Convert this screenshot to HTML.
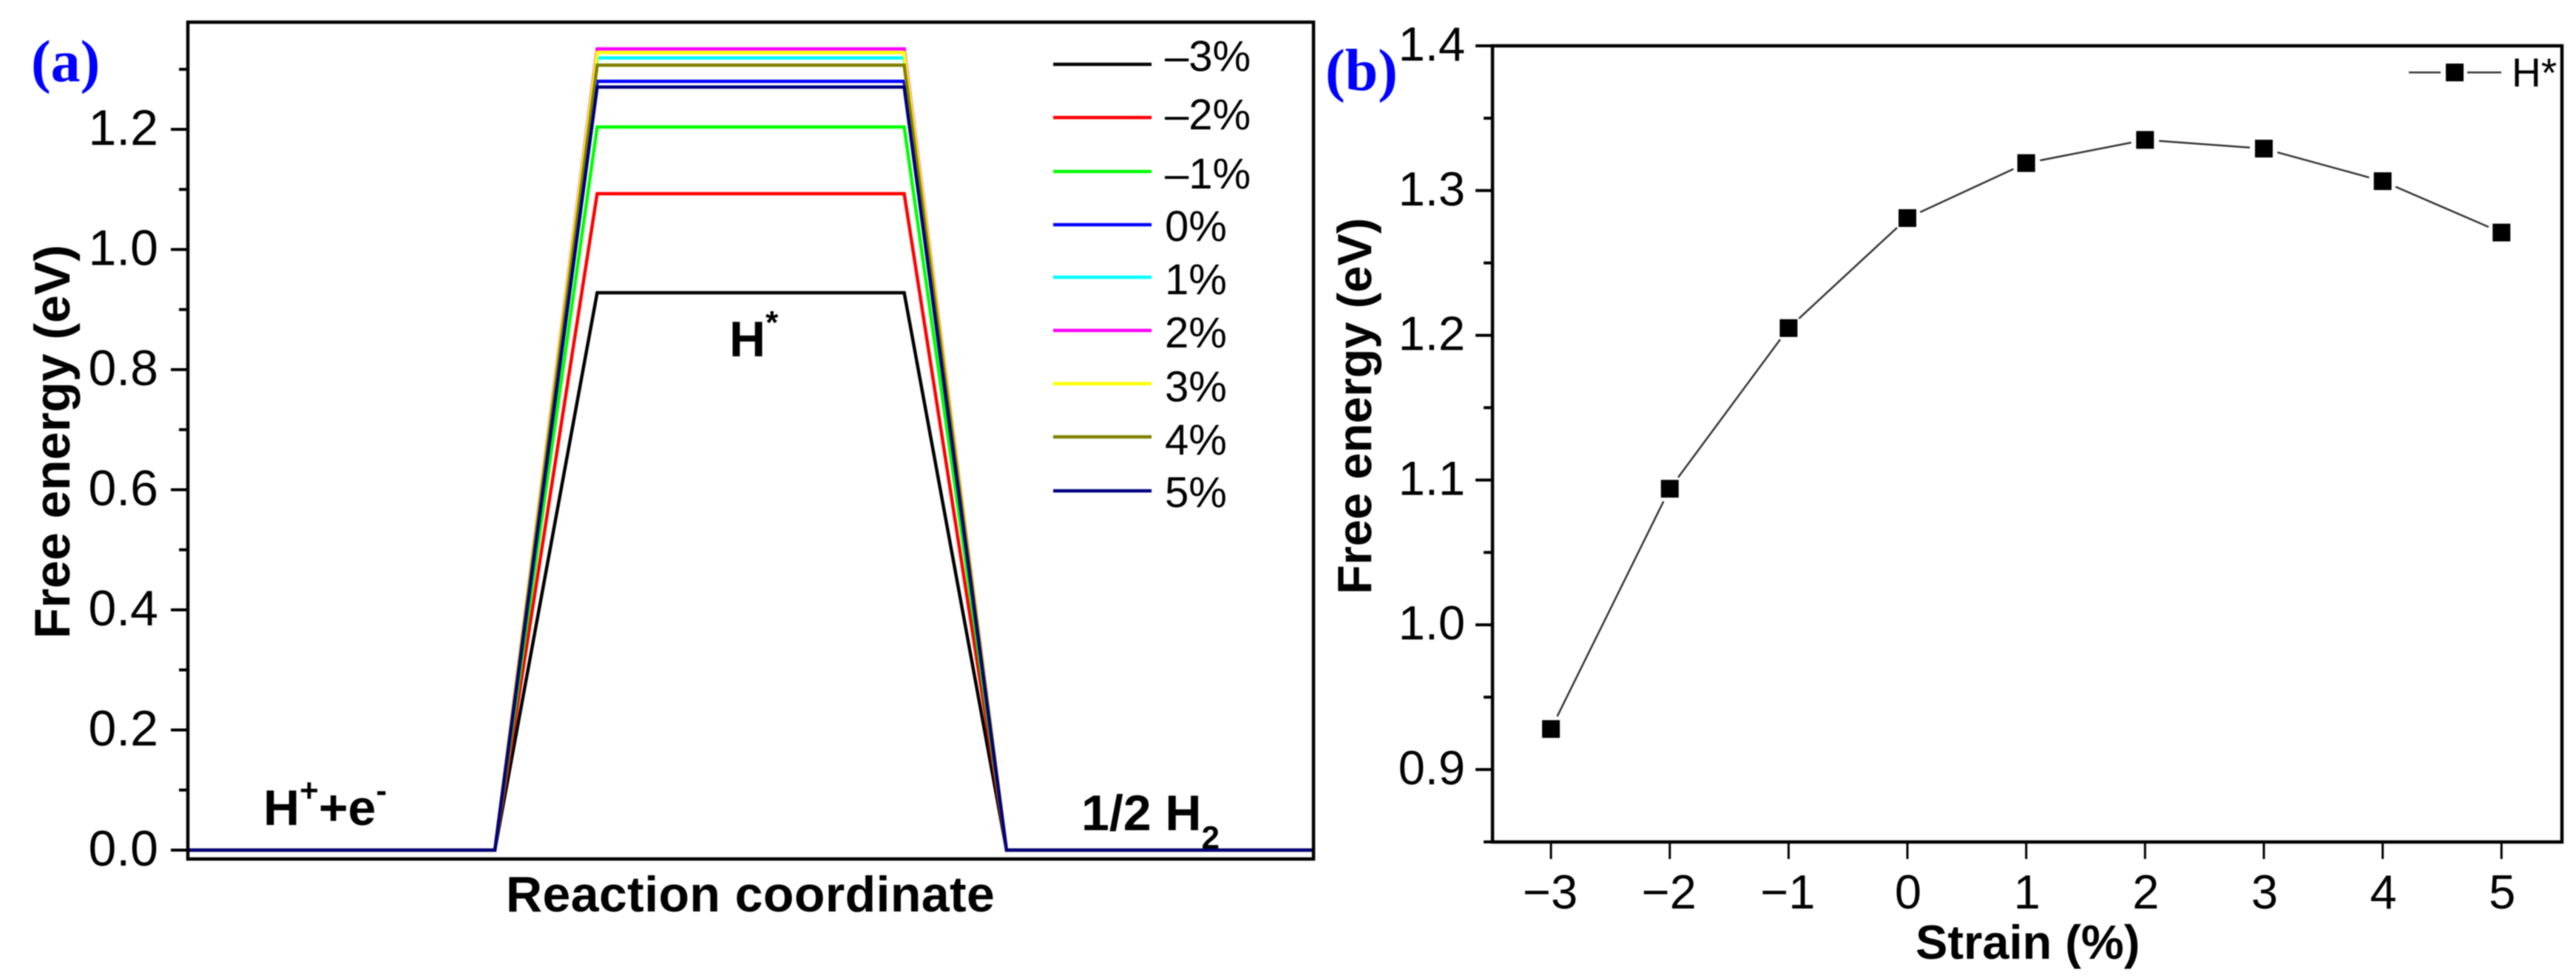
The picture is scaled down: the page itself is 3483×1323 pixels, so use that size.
<!DOCTYPE html>
<html lang="en">
<head>
<meta charset="utf-8">
<title>Free energy vs reaction coordinate and strain</title>
<style>
html,body{margin:0;padding:0;background:#fff;width:3483px;height:1323px;overflow:hidden}
svg{display:block;filter:blur(0.8px)}
text{font-family:"Liberation Sans",Arial,sans-serif;fill:#000}
.b{font-weight:bold}
.serif{font-family:"Liberation Serif","Times New Roman",serif;font-weight:bold;fill:#0000ff;font-size:80px}
</style>
</head>
<body>
<svg id="figure" xmlns="http://www.w3.org/2000/svg" width="3483" height="1323" viewBox="0 0 3483 1323">
  <rect x="0" y="0" width="3483" height="1323" fill="#fff"/>

  <!-- Panel (a) static furniture -->
  <text class="serif" x="42" y="110">(a)</text>
  <text class="b" font-size="68" transform="translate(94,864) rotate(-90)">Free energy (eV)</text>
  <text class="b" font-size="68" letter-spacing="0.4" x="684" y="1233">Reaction coordinate</text>

  <g id="panelATicks"></g>
  <g id="panelASeries" fill="none"></g>
  <rect x="254" y="30" width="1522" height="1132" fill="none" stroke="#000" stroke-width="4.5"/>

  <text class="b" font-size="68" x="356" y="1116">H<tspan font-size="44" dy="-32">+</tspan><tspan dy="32">+e</tspan><tspan font-size="44" dy="-32">-</tspan></text>
  <text class="b" font-size="68" x="1462" y="1123">1/2 H<tspan font-size="44" dy="25">2</tspan></text>
  <text class="b" font-size="68" x="986" y="482">H<tspan font-size="44" dy="-31">*</tspan></text>

  <g font-size="58">
    <line x1="1424" x2="1557" y1="87" y2="87" stroke="#000000" stroke-width="4.5"/>
    <text x="1575" y="96">–3%</text>
    <line x1="1424" x2="1557" y1="159" y2="159" stroke="#ff0000" stroke-width="4.5"/>
    <text x="1575" y="175">–2%</text>
    <line x1="1424" x2="1557" y1="232" y2="232" stroke="#00ff00" stroke-width="4.5"/>
    <text x="1575" y="255">–1%</text>
    <line x1="1424" x2="1557" y1="304" y2="304" stroke="#0000ff" stroke-width="4.5"/>
    <text x="1575" y="326">0%</text>
    <line x1="1424" x2="1557" y1="375" y2="375" stroke="#00ffff" stroke-width="4.5"/>
    <text x="1575" y="398">1%</text>
    <line x1="1424" x2="1557" y1="447" y2="447" stroke="#ff00ff" stroke-width="4.5"/>
    <text x="1575" y="470">2%</text>
    <line x1="1424" x2="1557" y1="519" y2="519" stroke="#ffff00" stroke-width="4.5"/>
    <text x="1575" y="543">3%</text>
    <line x1="1424" x2="1557" y1="591" y2="591" stroke="#808000" stroke-width="4.5"/>
    <text x="1575" y="615">4%</text>
    <line x1="1424" x2="1557" y1="664" y2="664" stroke="#000080" stroke-width="4.5"/>
    <text x="1575" y="686">5%</text>
  </g>

  <!-- Panel (b) static furniture -->
  <text class="serif" x="1792" y="122">(b)</text>
  <text class="b" font-size="65" transform="translate(1854,804) rotate(-90)">Free energy (eV)</text>
  <text class="b" font-size="65" x="2590" y="1297">Strain (%)</text>

  <g id="panelBTicks"></g>
  <rect x="2018" y="62" width="1446" height="1077" fill="none" stroke="#000" stroke-width="4.5"/>
  <g id="panelBSeries"></g>

  <g>
    <line x1="3257" x2="3300" y1="98" y2="98" stroke="#333" stroke-width="2.5"/>
    <line x1="3336" x2="3382" y1="98" y2="98" stroke="#333" stroke-width="2.5"/>
    <rect x="3307" y="86" width="24" height="24" fill="#000"/>
    <text font-size="55" x="3396" y="117">H*</text>
  </g>
</svg>

<script>
/* Panel (a) data */
const strainLabels = ['-3%', '-2%', '-1%', '0%', '1%', '2%', '3%', '4%', '5%'];
const reactionSteps = [0, 3, 4, 7, 8, 11];
const intermediateEnergy = [0.928, 1.093, 1.204, 1.280, 1.319, 1.334, 1.328, 1.307, 1.2705];
const seriesColors = ['#000000', '#ff0000', '#00ff00', '#0000ff', '#00ffff', '#ff00ff', '#ffff00', '#808000', '#000080'];
const panelAMajorTicks = [0, 0.2, 0.4, 0.6, 0.8, 1.0, 1.2];
const panelAMinorTicks = [0.1, 0.3, 0.5, 0.7, 0.9, 1.1, 1.3];

/* Panel (b) data */
const strainValues = [-3, -2, -1, 0, 1, 2, 3, 4, 5];
const hStarEnergy = [0.928, 1.094, 1.205, 1.281, 1.319, 1.335, 1.329, 1.3065, 1.271];
const panelBMajorTicks = [0.9, 1.0, 1.1, 1.2, 1.3, 1.4];
const panelBMinorTicks = [0.85, 0.95, 1.05, 1.15, 1.25, 1.35];
const panelBXTicks = [-3, -2, -1, 0, 1, 2, 3, 4, 5];

const SVGNS = 'http://www.w3.org/2000/svg';
function make(tag, attrs, parent) {
  const el = document.createElementNS(SVGNS, tag);
  for (const k in attrs) el.setAttribute(k, attrs[k]);
  parent.appendChild(el);
  return el;
}

/* axis functions */
function axAX(t) { return 254 + (t / 11) * 1522; }
function axAY(v) { return 1150 - v * 812.5; }
function axBX(s) { return 2579 + s * 160.65; }
function axBY(v) { return 1041 - (v - 0.9) * 1958; }

/* Panel (a) ticks */
const aTicks = document.getElementById('panelATicks');
panelAMajorTicks.forEach(function (v) {
  const tick = make('line', { x1: 231, x2: 254, y1: axAY(v), y2: axAY(v), stroke: '#000', 'stroke-width': 4 }, aTicks);
  
  
  const label = make('text', { x: 214, y: axAY(v) + 21, 'text-anchor': 'end', 'font-size': 68 }, aTicks);
  label.textContent = v.toFixed(1);
  
  
});
panelAMinorTicks.forEach(function (v) {
  const tick = make('line', { x1: 242, x2: 254, y1: axAY(v), y2: axAY(v), stroke: '#000', 'stroke-width': 4 }, aTicks);
  
  
});

/* Panel (a) series */
const aSeries = document.getElementById('panelASeries');
intermediateEnergy.forEach(function (e, i) {
  const profile = [0, 0, e, e, 0, 0];
  const pts = reactionSteps.map(function (t, j) { return axAX(t) + ',' + axAY(profile[j]); }).join(' ');
  const line = make('polyline', { points: pts, stroke: seriesColors[i], 'stroke-width': 4.5, 'stroke-linejoin': 'miter', fill: 'none' }, aSeries);
  
  
});

/* Panel (b) ticks */
const bTicks = document.getElementById('panelBTicks');
panelBMajorTicks.forEach(function (v) {
  const tick = make('line', { x1: 1995, x2: 2018, y1: axBY(v), y2: axBY(v), stroke: '#000', 'stroke-width': 4 }, bTicks);
  
  
  const label = make('text', { x: 1981, y: axBY(v) + 20, 'text-anchor': 'end', 'font-size': 65 }, bTicks);
  label.textContent = v.toFixed(1);
  
  
});
panelBMinorTicks.forEach(function (v) {
  const tick = make('line', { x1: 2006, x2: 2018, y1: axBY(v), y2: axBY(v), stroke: '#000', 'stroke-width': 4 }, bTicks);
  
  
});
panelBXTicks.forEach(function (s) {
  const tick = make('line', { x1: axBX(s), x2: axBX(s), y1: 1139, y2: 1162, stroke: '#000', 'stroke-width': 3 }, bTicks);
  
  
  const label = make('text', { x: axBX(s) + (s < 0 ? -1 : 1), y: 1229, 'text-anchor': 'middle', 'font-size': 65 }, bTicks);
  label.textContent = (s < 0 ? '\u2212' + Math.abs(s) : String(s));
  
  
});

/* Panel (b) series: segments with a gap around each marker */
const bSeries = document.getElementById('panelBSeries');
const markerGap = 19;
for (let i = 0; i < strainValues.length - 1; i++) {
  const x0 = axBX(strainValues[i]), y0 = axBY(hStarEnergy[i]);
  const x1 = axBX(strainValues[i + 1]), y1 = axBY(hStarEnergy[i + 1]);
  const len = Math.hypot(x1 - x0, y1 - y0);
  const ux = (x1 - x0) / len, uy = (y1 - y0) / len;
  const seg = make('line', {
    x1: x0 + ux * markerGap, y1: y0 + uy * markerGap,
    x2: x1 - ux * markerGap, y2: y1 - uy * markerGap,
    stroke: '#333', 'stroke-width': 2.5
  }, bSeries);
  
  
}
strainValues.forEach(function (s, i) {
  const m = make('rect', { x: axBX(s) - 12, y: axBY(hStarEnergy[i]) - 12, width: 24, height: 24, fill: '#000' }, bSeries);
  
  
});
</script>
</body>
</html>
